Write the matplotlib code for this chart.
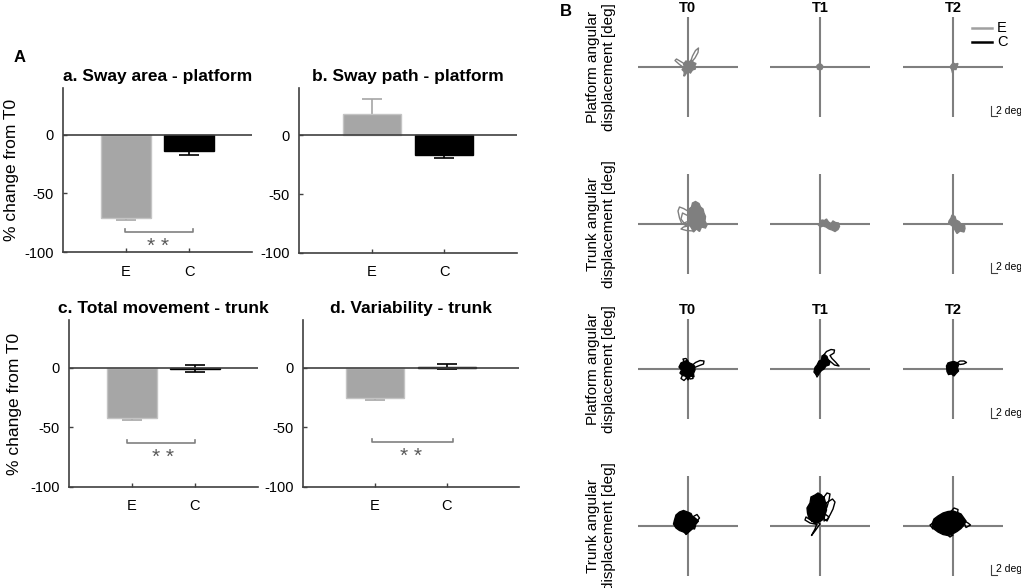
import matplotlib.pyplot as plt
import numpy as np

plt.rcParams['font.family'] = ['Liberation Sans', 'DejaVu Sans']
plt.rcParams['axes.unicode_minus'] = False

W, H = 1021, 588

# ---- panel A: % change from T0 ----
groups = ['E', 'C']
titles = ['a. Sway area - platform', 'b. Sway path - platform',
          'c. Total movement - trunk', 'd. Variability - trunk']
means = [[-71, -14], [18, -17], [-42, -1], [-25, 1]]
errs = [[2, 3], [13, 2], [2, 3], [2, 2]]
sig_x0 = [0.98, None, 0.92, 0.96]
sig_x1 = [2.06, None, 2.0, 2.08]
sig_y = [-83, None, -63, -62.5]
yticks = [-100, -50, 0]

# ---- panel B: angular displacement traces [deg] (x, y) ----
col_titles = ['T0', 'T1', 'T2']
row_labels = ['Platform angular\ndisplacement [deg]', 'Trunk angular\ndisplacement [deg]',
              'Platform angular\ndisplacement [deg]', 'Trunk angular\ndisplacement [deg]']

# row 1: platform, group E
platE_T0_core = [(-0.8, 0.6), (-0.3, 1.2), (0.3, 1.0), (0.8, 1.4), (1.2, 0.9), (1.7, 0.7), (1.4, 0.1),
                 (1.6, -0.4), (1.0, -0.6), (0.6, -1.2), (0.0, -0.9), (-0.6, -1.8), (-0.7, -0.9),
                 (-1.1, -0.5), (-0.6, 0.0)]
platE_T0_loops = [[(0.6, 1.0), (1.0, 2.2), (1.6, 3.3), (2.2, 3.8), (2.1, 2.9), (1.5, 1.8), (0.9, 1.1)],
                  [(-0.2, 0.4), (-1.2, 1.0), (-2.2, 1.6), (-2.5, 1.3), (-1.6, 0.5), (-0.8, -0.1), (-0.4, -0.2)],
                  [(-0.3, -0.6), (-0.7, -1.8), (-0.5, -1.0)]]
platE_T1_core = [(-0.6, 0.3), (-0.2, 0.6), (0.3, 0.5), (0.6, 0.1), (0.4, -0.4), (0.0, -0.6), (-0.5, -0.4)]
platE_T1_loops = []
platE_T2_core = [(-0.4, 0.3), (0.0, 0.8), (0.5, 0.6), (1.0, 0.7), (0.8, 0.1), (0.6, -0.5), (0.1, -0.5),
                 (-0.1, -1.2), (-0.3, -0.4), (-0.6, 0.0)]
platE_T2_loops = []

# row 2: trunk, group E
trunkE_T0_core = [(0.3, 3.0), (0.8, 3.4), (1.0, 4.2), (1.6, 4.5), (2.3, 4.1), (2.6, 3.4), (3.1, 3.0),
                  (3.3, 2.2), (3.6, 1.5), (3.5, 0.6), (3.9, -0.2), (3.6, -0.8), (2.8, -0.6), (2.4, -1.5),
                  (1.8, -1.0), (1.2, -1.6), (0.8, -0.8), (0.4, -0.2), (0.5, 0.9), (0.2, 1.8)]
trunkE_T0_loops = [[(0.4, 2.4), (-0.8, 3.1), (-1.6, 3.4), (-1.9, 2.6), (-1.6, 1.2), (-1.2, 0.2), (-0.2, -0.4), (0.6, 0.0)],
                   [(0.2, 1.6), (-1.0, 2.2), (-1.3, 1.0), (-0.7, 0.2), (0.3, 0.6)],
                   [(0.5, -0.3), (-0.8, -0.6), (-1.3, -1.0), (-0.2, -1.3), (1.2, -1.4), (1.6, -0.8)]]
trunkE_T1_core = [(0.0, 0.2), (0.4, 0.8), (0.9, 0.7), (1.3, 1.0), (1.7, 0.4), (2.2, 0.1), (2.6, 0.6),
                  (3.1, 0.3), (3.7, 0.2), (3.9, -0.5), (3.6, -1.1), (3.0, -1.5), (2.4, -1.2), (1.8, -1.0),
                  (1.2, -0.6), (0.6, -0.4), (0.1, -0.6), (-0.3, -0.2)]
trunkE_T1_loops = []
trunkE_T2_core = [(-0.8, 0.6), (-0.4, 1.2), (-0.2, 1.8), (0.4, 1.5), (0.6, 0.8), (1.2, 0.5), (1.6, 0.0),
                  (2.3, -0.2), (2.4, -0.9), (2.2, -1.6), (1.4, -1.4), (0.8, -1.9), (0.4, -1.2), (0.1, -0.6),
                  (-0.4, -0.2), (-0.9, 0.1)]
trunkE_T2_loops = []

# row 3: platform, group C
platC_T0_core = [(-1.7, 0.4), (-1.3, 1.2), (-0.7, 1.5), (-0.1, 1.7), (0.4, 1.2), (0.9, 1.0), (1.4, 0.6),
                 (1.5, -0.2), (1.2, -0.9), (1.3, -1.6), (0.6, -1.4), (0.1, -2.2), (-0.4, -1.4),
                 (-1.0, -1.3), (-1.5, -0.8), (-1.2, -0.2)]
platC_T0_loops = [[(0.9, 0.7), (1.6, 1.3), (2.5, 1.7), (3.3, 1.6), (3.2, 1.0), (2.4, 0.7), (1.4, 0.3)],
                  [(-0.9, -1.0), (-1.3, -1.9), (-0.7, -2.3), (-0.1, -1.7)],
                  [(0.2, -1.3), (0.5, -2.0), (1.1, -1.9), (1.0, -1.2)],
                  [(-0.7, 1.4), (-0.9, 2.0), (-0.3, 2.1), (0.1, 1.6)]]
platC_T1_core = [(-1.2, -0.6), (-1.0, 0.3), (-0.6, 0.8), (-0.2, 1.6), (0.3, 1.8), (0.4, 2.6), (0.9, 2.9),
                 (1.4, 2.5), (1.6, 1.9), (2.0, 1.5), (1.8, 0.8), (1.2, 0.6), (0.8, 0.0), (0.3, -0.3),
                 (-0.2, -0.9), (-0.7, -1.2)]
platC_T1_loops = [[(0.6, 2.6), (1.3, 3.5), (2.2, 3.9), (2.9, 3.8), (2.8, 3.2), (2.0, 2.7), (2.4, 2.1),
                   (3.1, 1.4), (3.8, 0.6), (2.9, 0.8), (2.2, 1.4), (1.5, 1.9), (1.0, 2.2)],
                  [(-0.9, -0.8), (-0.6, -1.6), (-0.2, -1.0)]]
platC_T2_core = [(-1.3, 0.6), (-1.0, 1.2), (-0.4, 1.4), (0.2, 1.5), (0.7, 1.3), (1.1, 0.8), (0.9, 0.2),
                 (1.1, -0.4), (0.6, -0.9), (0.2, -1.4), (-0.3, -1.0), (-0.9, -1.1), (-1.2, -0.5)]
platC_T2_loops = [[(0.8, 1.2), (1.4, 1.6), (2.2, 1.6), (2.7, 1.3), (2.1, 1.0), (1.4, 0.9)]]

# row 4: trunk, group C
trunkC_T0_core = [(-2.6, 1.2), (-2.3, 2.2), (-1.6, 2.8), (-0.8, 3.1), (0.0, 2.8), (0.7, 2.5), (1.0, 1.9),
                  (1.5, 1.6), (2.2, 1.0), (1.7, 0.4), (1.3, -0.3), (0.6, -0.9), (-0.2, -1.6), (-0.8, -1.2),
                  (-1.6, -0.9), (-2.3, -0.4), (-2.8, 0.4)]
trunkC_T0_loops = [[(1.0, 1.8), (1.9, 2.3), (2.4, 1.6), (1.8, 0.9)],
                   [(0.6, -0.4), (1.4, -0.6), (1.6, 0.0)],
                   [(-0.7, -1.0), (-0.3, -1.7), (0.2, -1.2)]]
trunkC_T1_core = [(-2.5, 2.6), (-2.6, 3.6), (-2.0, 4.6), (-1.8, 5.8), (-1.0, 6.2), (-0.4, 6.6), (0.3, 6.2),
                  (0.9, 5.4), (1.2, 4.3), (1.3, 3.2), (1.0, 2.2), (0.6, 1.3), (-0.2, 0.8), (-1.0, 0.7),
                  (-1.8, 1.2), (-2.3, 1.8)]
trunkC_T1_loops = [[(0.8, 5.8), (1.4, 6.6), (2.0, 6.4), (1.8, 5.2), (1.4, 3.8), (1.0, 3.0)],
                   [(1.2, 4.6), (2.5, 5.4), (3.0, 4.8), (2.6, 3.4), (2.0, 2.2), (1.5, 1.4), (0.8, 1.0)],
                   [(-1.6, 1.0), (-2.8, 1.8), (-3.0, 1.2), (-2.0, 0.6), (-0.6, 0.3)],
                   [(-0.5, 0.8), (-1.0, -0.6), (-1.7, -1.9), (-1.0, -1.0), (0.0, 0.4)],
                   [(0.6, 1.6), (1.4, 1.0), (1.8, 1.8), (1.0, 2.4)]]
trunkC_T2_core = [(-4.2, 0.4), (-3.8, 1.4), (-3.0, 2.0), (-2.0, 2.6), (-1.0, 2.9), (0.0, 3.0), (0.9, 2.7),
                  (1.6, 2.4), (2.1, 1.7), (2.6, 1.0), (2.2, 0.2), (1.6, -0.5), (0.8, -1.1), (-0.1, -1.6),
                  (-1.0, -1.9), (-2.0, -1.7), (-3.0, -1.2), (-3.8, -0.6)]
trunkC_T2_loops = [[(-0.5, 2.8), (0.2, 3.6), (1.0, 3.3), (0.9, 2.5)],
                   [(2.0, 1.2), (3.0, 0.6), (3.5, 0.2), (2.6, -0.3)],
                   [(-1.2, -1.7), (-0.6, -2.2), (0.0, -1.8)],
                   [(-4.0, 0.6), (-4.6, 0.2), (-4.0, -0.6)]]

traces = [[(platE_T0_core, platE_T0_loops), (platE_T1_core, platE_T1_loops), (platE_T2_core, platE_T2_loops)],
          [(trunkE_T0_core, trunkE_T0_loops), (trunkE_T1_core, trunkE_T1_loops), (trunkE_T2_core, trunkE_T2_loops)],
          [(platC_T0_core, platC_T0_loops), (platC_T1_core, platC_T1_loops), (platC_T2_core, platC_T2_loops)],
          [(trunkC_T0_core, trunkC_T0_loops), (trunkC_T1_core, trunkC_T1_loops), (trunkC_T2_core, trunkC_T2_loops)]]
row_colors = ['#7f7f7f', '#7f7f7f', '#000000', '#000000']


def px_rect(l, t, r, b):
    return [l / W, 1 - b / H, (r - l) / W, (b - t) / H]


fig = plt.figure(figsize=(W / 100, H / 100), dpi=100)

# ---- bar charts ----
bar_boxes = [(63, 88, 252, 252), (299, 88, 517, 253), (69, 320, 258, 487), (303, 320, 519, 487)]
bar_colors = ['#a6a6a6', '#000000']
edge_colors = ['#c4c4c4', '#000000']
ax_dark = '#404040'

for i in range(4):
    ax = fig.add_axes(px_rect(*bar_boxes[i]))
    x = np.arange(1, len(groups) + 1)
    for j in range(len(groups)):
        ax.errorbar(x[j], means[i][j], yerr=errs[i][j], fmt='none', ecolor=bar_colors[j],
                    elinewidth=1.2, capsize=7, capthick=1.2, zorder=1)
    ax.bar(x, means[i], width=0.8, color=bar_colors, edgecolor=edge_colors, linewidth=1, zorder=2)
    ax.axhline(0, color=ax_dark, lw=1.2, zorder=3)
    ax.set_xlim(0, 3)
    ax.set_ylim(-100, 40)
    ax.set_xticks(x)
    ax.set_xticklabels(groups)
    ax.set_yticks(yticks)
    ax.tick_params(axis='both', direction='in', length=3, width=1, color=ax_dark, labelsize=10.5)
    ax.tick_params(axis='x', pad=9)
    ax.tick_params(axis='y', pad=6.5)
    for s in ['top', 'right']:
        ax.spines[s].set_visible(False)
    for s in ['left', 'bottom']:
        ax.spines[s].set_color(ax_dark)
        ax.spines[s].set_linewidth(1.2)
    ax.set_title(titles[i], fontsize=12.5, fontweight='bold', pad=5)
    if sig_y[i] is not None:
        y = sig_y[i]
        ax.plot([sig_x0[i], sig_x0[i], sig_x1[i], sig_x1[i]], [y + 2.8, y, y, y + 2.8],
                color='#808080', lw=1.2, clip_on=False)
        ax.text(1.5, y - 12, '* *', ha='center', va='center', fontsize=15, color='#595959')

fig.text(12 / W, 1 - 170 / H, '% change from T0', rotation=90, ha='center', va='center', fontsize=12.5)
fig.text(15 / W, 1 - 404 / H, '% change from T0', rotation=90, ha='center', va='center', fontsize=12.5)
fig.text(20 / W, 1 - 58 / H, 'A', ha='center', va='center', fontsize=12, fontweight='bold')
fig.text(566 / W, 1 - 11 / H, 'B', ha='center', va='center', fontsize=12, fontweight='bold')

# ---- trajectories ----
col_cx = [687.5, 820, 953]
row_cy = [67, 224, 369, 526]
half = 50
lim = 10  # deg at the crosshair ends

for r in range(4):
    for c in range(3):
        cx, cy = col_cx[c], row_cy[r]
        ax = fig.add_axes(px_rect(cx - half, cy - half, cx + half, cy + half))
        ax.set_xlim(-lim, lim)
        ax.set_ylim(-lim, lim)
        ax.axis('off')
        ax.axhline(0, color='#7f7f7f', lw=1.5, zorder=1)
        ax.axvline(0, color='#7f7f7f', lw=1.5, zorder=1)
        core, loops = traces[r][c]
        cxs, cys = zip(*core)
        ax.fill(cxs, cys, facecolor=row_colors[r], edgecolor=row_colors[r], lw=1.0, zorder=3)
        for lp in loops:
            lx, ly = zip(*lp)
            ax.plot(list(lx) + [lx[0]], list(ly) + [ly[0]], color=row_colors[r], lw=1.0, zorder=3)
        if r in (0, 2):
            ax.text(0, lim + 1.8, col_titles[c], ha='center', va='center', fontsize=10.5, fontweight='bold')
        if c == 2:
            # 2 deg scale bar
            ax.plot([7.6, 7.6, 8.8], [-7.8, -9.8, -9.8], color=ax_dark, lw=0.8, clip_on=False)
            ax.text(8.7, -8.7, '2 deg', ha='left', va='center', fontsize=7.5)
            if r == 0:
                ax.plot([3.8, 7.8], [7.8, 7.8], color='#a0a0a0', lw=1.8, clip_on=False)
                ax.plot([3.8, 7.8], [5.0, 5.0], color='#000000', lw=1.8, clip_on=False)
                ax.text(8.8, 7.8, 'E', ha='left', va='center', fontsize=10.5)
                ax.text(8.8, 5.0, 'C', ha='left', va='center', fontsize=10.5)
    fig.text(601 / W, 1 - row_cy[r] / H, row_labels[r], rotation=90, ha='center', va='center',
             multialignment='center', fontsize=11, linespacing=1.15)

fig.savefig('out.png', dpi=100)
